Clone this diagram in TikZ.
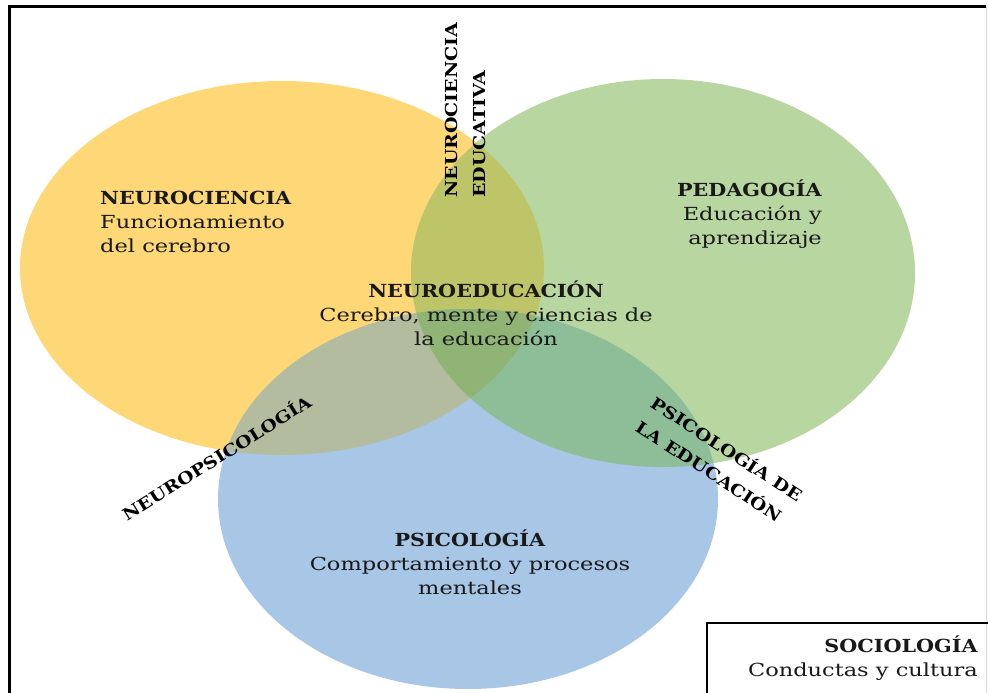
\documentclass[tikz,border=0pt]{standalone}
\usepackage{fontspec}
\setmainfont{DejaVu Serif}[FakeStretch=1.25, BoldFeatures={FakeStretch=1.15}]
\usepackage{tikz}

\definecolor{neurocol}{RGB}{254,216,118}
\definecolor{pedacol}{RGB}{183,214,160}
\definecolor{psicocol}{RGB}{168,198,230}
\definecolor{neupedcol}{RGB}{190,196,104}
\definecolor{neupsicol}{RGB}{180,188,160}
\definecolor{pedpsicol}{RGB}{142,190,152}
\definecolor{centercol}{RGB}{144,180,118}

\begin{document}
\begin{tikzpicture}[x=1pt,y=-1pt,
  txt/.style={inner sep=0pt,text=black!90,font=\fontsize{18}{24}\selectfont},
  cross/.style={inner sep=0pt,text=black,font=\bfseries\fontsize{16.5}{28}\selectfont}]
\useasboundingbox (0,0) rectangle (988,693);
% frame
\draw [black, line width=3pt] (9,720) -- (9,7) -- (986,7);
\draw [black!15, line width=1pt] (986,7) -- (986,693);
% the three fields
\fill [neurocol] (282,268) ellipse (262pt and 187pt);
\fill [pedacol] (663,273) ellipse (252pt and 194pt);
\fill [psicocol] (468,499) ellipse (250pt and 190pt);
\begin{scope}
\clip (282,268) ellipse (262pt and 187pt);
\fill [neupedcol] (663,273) ellipse (252pt and 194pt);
\fill [neupsicol] (468,499) ellipse (250pt and 190pt);
\end{scope}
\begin{scope}
\clip (663,273) ellipse (252pt and 194pt);
\fill [pedpsicol] (468,499) ellipse (250pt and 190pt);
\clip (282,268) ellipse (262pt and 187pt);
\fill [centercol] (468,499) ellipse (250pt and 190pt);
\end{scope}
% field labels
\node [txt, anchor=north west, align=left] (neuro) at (100,191)
  {\textbf{NEUROCIENCIA}\\Funcionamiento\\del cerebro};
\node [txt, anchor=north east, align=right] (peda) at (822,180)
  {\textbf{PEDAGOGÍA}\\Educación y\\aprendizaje};
\node [txt, anchor=north, align=center] (neuroedu) at (486,281)
  {\textbf{NEUROEDUCACIÓN}\\Cerebro, mente y ciencias de\\la educación};
\node [txt, anchor=north, align=center] (psico) at (470,530)
  {\textbf{PSICOLOGÍA}\\Comportamiento y procesos\\mentales};
% overlaps
\node [cross, rotate=90, anchor=north west, align=left] (neuroeducativa) at (445,198)
  {NEUROCIENCIA\\EDUCATIVA};
\node [cross, rotate=32] (neuropsico) at (216,457) {NEUROPSICOLOGÍA};
\node [cross, rotate=-33, align=left] (psicoedu) at (720,460)
  {PSICOLOGÍA DE\\LA EDUCACIÓN};
% sociology box
\draw [black, line width=2pt] (1000,623) -- (707,623) -- (707,720);
\node [txt, anchor=north east, align=right] (socio) at (978,636)
  {\textbf{SOCIOLOGÍA}\\Conductas y cultura};
\end{tikzpicture}
\end{document}
